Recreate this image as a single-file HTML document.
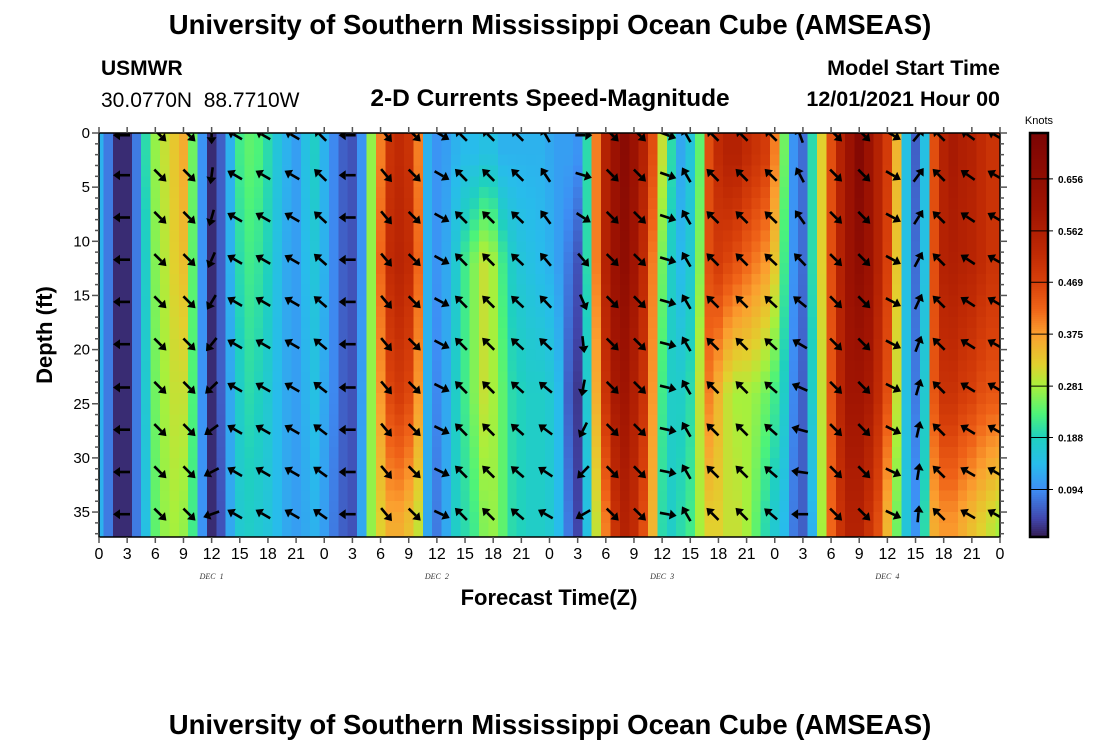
<!DOCTYPE html>
<html><head><meta charset="utf-8"><title>AMSEAS currents</title>
<style>
html,body{margin:0;padding:0;background:#fff;}
svg{display:block;font-family:"Liberation Sans",sans-serif;}
</style></head>
<body>
<svg id="chart" width="1100" height="750" viewBox="0 0 1100 750" xmlns="http://www.w3.org/2000/svg">
<defs><clipPath id="plotclip"><rect x="99" y="133" width="901" height="404"/></clipPath></defs>
<text x="550" y="34" text-anchor="middle" font-size="27.5" font-weight="bold">University of Southern Mississippi Ocean Cube (AMSEAS)</text>
<text x="101" y="75" font-size="21" font-weight="bold">USMWR</text>
<text x="101" y="107" font-size="21" xml:space="preserve" style="white-space:pre">30.0770N  88.7710W</text>
<text x="550" y="106" text-anchor="middle" font-size="24.5" font-weight="bold">2-D Currents Speed-Magnitude</text>
<text x="1000" y="75" text-anchor="end" font-size="21.5" font-weight="bold">Model Start Time</text>
<text x="1000" y="106" text-anchor="end" font-size="21.5" font-weight="bold">12/01/2021 Hour 00</text>
<g id="cells" shape-rendering="crispEdges"></g>
<g id="arrows" clip-path="url(#plotclip)"></g>
<g id="axes"></g>
<g id="cbar"></g>
<text x="549" y="605" text-anchor="middle" font-size="22" font-weight="bold">Forecast Time(Z)</text>
<text transform="translate(52,335) rotate(-90)" text-anchor="middle" font-size="22" font-weight="bold">Depth (ft)</text>
<text x="550" y="734" text-anchor="middle" font-size="27.5" font-weight="bold">University of Southern Mississippi Ocean Cube (AMSEAS)</text>
</svg>
<script>
// ---- data ----
const hours = Array.from({length:97},(_,i)=>i);
const levelDepths = [2, 12, 24, 36];
const speedL0 = [0.13,0.08,0.02,0.02,0.08,0.2,0.27,0.30,0.33,0.36,
0.25,0.1,0.02,0.06,0.13,0.22,0.24,0.23,0.2,0.16,
0.13,0.11,0.15,0.18,0.13,0.09,0.06,0.05,0.1,0.27,
0.4,0.5,0.52,0.5,0.4,0.13,0.1,0.11,0.13,0.14,
0.14,0.15,0.15,0.13,0.13,0.13,0.13,0.13,0.12,0.11,
0.11,0.1,0.2,0.4,0.55,0.62,0.68,0.62,0.55,0.45,
0.3,0.2,0.12,0.16,0.24,0.45,0.52,0.55,0.55,0.52,
0.5,0.48,0.4,0.25,0.1,0.07,0.2,0.32,0.45,0.55,
0.62,0.7,0.62,0.55,0.48,0.35,0.15,0.06,0.15,0.45,
0.55,0.58,0.56,0.55,0.52,0.5,0.5];
const speedL1 = [0.13,0.08,0.02,0.02,0.08,0.18,0.26,0.29,0.32,0.34,
0.24,0.1,0.02,0.06,0.13,0.2,0.22,0.21,0.19,0.15,
0.12,0.11,0.14,0.16,0.13,0.09,0.06,0.05,0.1,0.27,
0.42,0.52,0.54,0.52,0.42,0.13,0.1,0.12,0.17,0.22,
0.26,0.3,0.28,0.22,0.18,0.16,0.15,0.14,0.13,0.11,
0.08,0.05,0.2,0.4,0.55,0.62,0.66,0.6,0.52,0.4,
0.25,0.18,0.14,0.17,0.26,0.45,0.48,0.46,0.44,0.42,
0.4,0.38,0.33,0.22,0.1,0.07,0.2,0.32,0.45,0.55,
0.62,0.66,0.62,0.55,0.47,0.33,0.15,0.07,0.15,0.45,
0.55,0.56,0.55,0.54,0.52,0.5,0.5];
const speedL2 = [0.13,0.08,0.02,0.02,0.08,0.17,0.25,0.28,0.3,0.3,
0.23,0.1,0.02,0.06,0.12,0.18,0.2,0.19,0.17,0.14,
0.12,0.11,0.13,0.15,0.12,0.09,0.06,0.05,0.11,0.27,
0.38,0.46,0.48,0.46,0.38,0.13,0.09,0.12,0.18,0.22,
0.26,0.3,0.28,0.24,0.2,0.19,0.18,0.18,0.17,0.14,
0.06,0.03,0.17,0.36,0.5,0.58,0.6,0.56,0.5,0.38,
0.22,0.18,0.18,0.2,0.3,0.4,0.35,0.3,0.28,0.28,
0.27,0.25,0.22,0.18,0.09,0.06,0.18,0.3,0.44,0.54,
0.6,0.6,0.58,0.52,0.45,0.3,0.15,0.08,0.17,0.44,
0.5,0.5,0.48,0.47,0.45,0.44,0.44];
const speedL3 = [0.13,0.08,0.02,0.02,0.08,0.15,0.24,0.27,0.28,0.27,
0.22,0.1,0.02,0.05,0.12,0.17,0.18,0.17,0.16,0.14,
0.12,0.11,0.12,0.13,0.11,0.08,0.06,0.05,0.12,0.27,
0.32,0.36,0.36,0.34,0.3,0.12,0.08,0.12,0.18,0.2,
0.22,0.26,0.27,0.24,0.2,0.19,0.18,0.18,0.17,0.14,
0.08,0.04,0.15,0.3,0.4,0.5,0.55,0.52,0.45,0.35,
0.2,0.18,0.2,0.22,0.28,0.32,0.32,0.3,0.3,0.28,
0.24,0.2,0.17,0.14,0.08,0.06,0.13,0.28,0.42,0.5,
0.55,0.55,0.5,0.45,0.35,0.25,0.16,0.1,0.2,0.36,
0.38,0.38,0.36,0.34,0.32,0.3,0.28];
const arrowHours = [2.45,6.5,9.6,12.0,14.5,17.5,20.6,23.6,26.5,30.6,33.6,36.5,38.6,41.5,44.6,47.6,
51.6,54.7,57.6,60.6,62.6,65.4,68.5,71.6,74.7,78.5,81.5,84.6,87.3,89.5,92.6,95.5];
const arrowDirTop = [270,135,135,180,300,300,300,315,270,140,135,120,315,315,315,330,
90,135,135,110,330,315,315,315,340,135,135,120,40,315,305,300];
const arrowDirBottom = [270,135,135,250,300,300,300,305,270,140,135,115,315,315,310,300,
240,135,135,100,330,315,315,310,270,135,135,115,5,315,300,300];
const arrowDepths = [0.2,3.9,7.8,11.7,15.6,19.5,23.5,27.4,31.3,35.2];
const yTicks = [0,5,10,15,20,25,30,35];
const xTickLabels = ["0","3","6","9","12","15","18","21","0","3","6","9","12","15","18","21","0","3","6","9","12","15","18","21","0","3","6","9","12","15","18","21","0"];
const dayLabels = ["DEC 1","DEC 2","DEC 3","DEC 4"];
const cbarTicks = [0.094,0.188,0.281,0.375,0.469,0.562,0.656];
// colormap stops (speed value -> color)
const cmapVals = [0,0.04,0.094,0.14,0.188,0.23,0.281,0.32,0.375,0.42,0.469,0.52,0.6,0.74];
const cmapCols = ["#30123b","#4145ab","#3e8ef5","#28bceb","#1fd0c0","#4cf37a","#a8f03c","#e2d02e","#fb9f2f","#f06418","#d8400a","#c02a04","#a01402","#7a0403"];

// ---- scales ----
const L=99,R=1000,T=133,B=537;
const X=h=>L+(R-L)*h/96;
const Y=d=>T+d*10.83;
const maxD=(B-T)/10.83;
const CB={x:1030,w:18,top:133,bot:537,vmin:0.008,vmax:0.739};
const CY=v=>CB.bot-(v-CB.vmin)/(CB.vmax-CB.vmin)*(CB.bot-CB.top);
const NS="http://www.w3.org/2000/svg";
function mk(tag,attrs,parent){const e=document.createElementNS(NS,tag);for(const k in attrs)e.setAttribute(k,attrs[k]);parent.appendChild(e);return e;}
function hex(c){return [1,3,5].map(i=>parseInt(c.substr(i,2),16));}
function color(v){
  if(v<=cmapVals[0])return cmapCols[0];
  for(let i=1;i<cmapVals.length;i++){
    if(v<=cmapVals[i]){const f=(v-cmapVals[i-1])/(cmapVals[i]-cmapVals[i-1]);
      const a=hex(cmapCols[i-1]),b=hex(cmapCols[i]);
      return "rgb("+a.map((x,j)=>Math.round(x+(b[j]-x)*f)).join(",")+")";}
  }
  return cmapCols[cmapCols.length-1];
}
const levels=[speedL0,speedL1,speedL2,speedL3];
function speedAt(i,d){
  if(d<=levelDepths[0])return levels[0][i];
  for(let k=1;k<levelDepths.length;k++){
    if(d<=levelDepths[k]){const f=(d-levelDepths[k-1])/(levelDepths[k]-levelDepths[k-1]);return levels[k-1][i]+(levels[k][i]-levels[k-1][i])*f;}
  }
  return levels[levels.length-1][i];
}

// ---- heatmap ----
const cells=document.getElementById('cells');
hours.forEach((h,i)=>{
  const x0=Math.max(X(h-0.5),L),x1=Math.min(X(h+0.5),R);
  for(let d=0;d<maxD;d+=1){
    const y0=Y(d),y1=Math.min(Y(d+1),B);
    const r=mk('rect',{x:x0.toFixed(2),y:y0.toFixed(2),width:(x1-x0+0.6).toFixed(2),height:(y1-y0+0.6).toFixed(2),fill:color(speedAt(i,d+0.5))},cells);
    
    
  }
});

// ---- arrows ----
const arrows=document.getElementById('arrows');
arrowHours.forEach((h,i)=>{
  arrowDepths.forEach((d,j)=>{
    const f=j/(arrowDepths.length-1);
    let a1=arrowDirTop[i],a2=arrowDirBottom[i];
    if(a2-a1>180)a2-=360; if(a1-a2>180)a2+=360;
    const ang=(a1+(a2-a1)*f)*Math.PI/180;
    const ux=Math.sin(ang),uy=-Math.cos(ang);
    const cx=X(h),cy=Y(d);
    const tx=cx-ux*8,ty=cy-uy*8,hx=cx+ux*9,hy=cy+uy*9;
    const bx=cx+ux*2,by=cy+uy*2;
    const g=mk('g',{},arrows);
    
    
    mk('line',{x1:tx.toFixed(1),y1:ty.toFixed(1),x2:bx.toFixed(1),y2:by.toFixed(1),stroke:'#000','stroke-width':2.6},g);
    const px=-uy,py=ux;
    mk('polygon',{points:[hx,hy,bx+px*5,by+py*5,bx-px*5,by-py*5].map(v=>v.toFixed(1)).join(' '),fill:'#000'},g);
  });
});

// ---- axes ----
const axes=document.getElementById('axes');
const frame=mk('rect',{x:L,y:T,width:R-L,height:B-T,fill:'none',stroke:'#000','stroke-width':1.5},axes);


for(let d=0;d<=maxD;d++){
  const y=Y(d),len=(d%5===0)?7:4;
  mk('line',{x1:L-len,y1:y,x2:L,y2:y,stroke:'#555','stroke-width':1.5},axes);
  mk('line',{x1:R,y1:y,x2:R+len,y2:y,stroke:'#555','stroke-width':1.5},axes);
}
yTicks.forEach(v=>{
  const t=mk('text',{x:L-9,y:Y(v)+5,'text-anchor':'end','font-size':15},axes);
  t.textContent=v;
  
  
});
xTickLabels.forEach((lab,i)=>{
  const x=X(i*3);
  mk('line',{x1:x,y1:T-6,x2:x,y2:T,stroke:'#555','stroke-width':1.5},axes);
  mk('line',{x1:x,y1:B,x2:x,y2:B+6,stroke:'#555','stroke-width':1.5},axes);
  const t=mk('text',{x:x,y:559,'text-anchor':'middle','font-size':16},axes);
  t.textContent=lab;
  
  
});
dayLabels.forEach((lab,i)=>{
  const t=mk('text',{x:X(i*24+12),y:579,'text-anchor':'middle','font-size':8,'font-style':'italic','font-family':'Liberation Serif, serif','fill':'#333'},axes);
  t.textContent=lab.replace(' ','\u00a0\u00a0');
  
  
});

// ---- colorbar ----
const cbar=document.getElementById('cbar');
for(let y=CB.top;y<CB.bot;y+=2){
  const v=CB.vmin+(CB.bot-y-1)/(CB.bot-CB.top)*(CB.vmax-CB.vmin);
  mk('rect',{x:CB.x,y:y,width:CB.w,height:2.6,fill:color(v)},cbar);
}
const cbf=mk('rect',{x:CB.x,y:CB.top,width:CB.w,height:CB.bot-CB.top,fill:'none',stroke:'#000','stroke-width':2.5},cbar);


cbarTicks.forEach(v=>{
  const y=CY(v);
  mk('line',{x1:CB.x,y1:y,x2:CB.x+CB.w+5,y2:y,stroke:'#000','stroke-width':1},cbar);
  const t=mk('text',{x:CB.x+CB.w+10,y:y+4,'font-size':10,'font-weight':'bold'},cbar);
  t.textContent=v.toFixed(3);
  
  
});
const kt=mk('text',{x:CB.x+CB.w/2,y:124,'text-anchor':'middle','font-size':11},cbar);
kt.textContent='Knots';


</script>
</body></html>
